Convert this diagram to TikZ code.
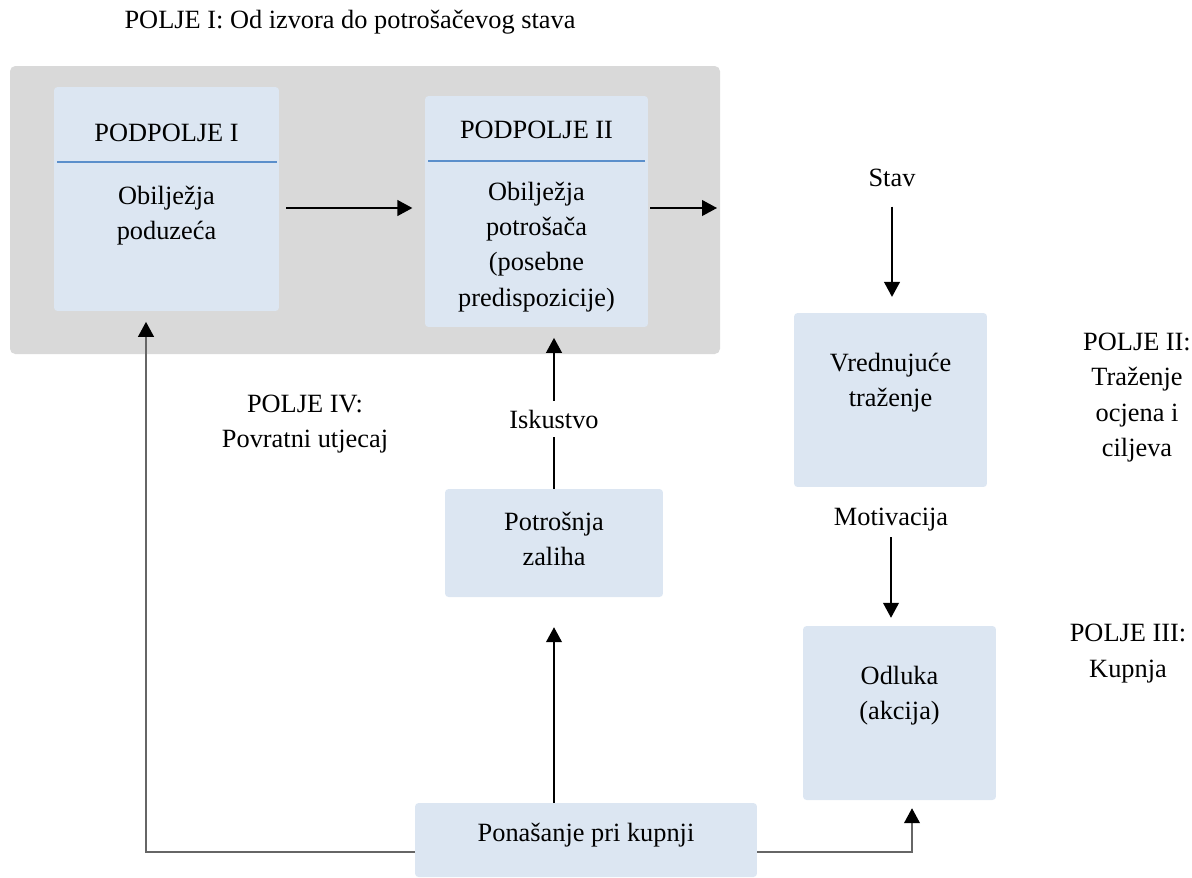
\documentclass[tikz,border=0pt]{standalone}
\usepackage{fontspec}
\setmainfont{Liberation Serif}
\usepackage{xcolor}
\usetikzlibrary{arrows.meta}

\definecolor{fieldgray}{HTML}{D9D9D9}
\definecolor{boxblue}{HTML}{DCE6F2}
\definecolor{ruleblue}{HTML}{5B8FCB}

\begin{document}
\begin{tikzpicture}[x=0.02cm, y=-0.02cm, font=\fontsize{15}{20}\selectfont,
    box/.style={fill=boxblue, rounded corners=2pt, inner sep=0pt},
    txt/.style={inner sep=0pt, align=center},
    arr/.style={line width=0.8pt, -{Triangle[width=9pt, length=8.5pt]}},
    fb/.style={line width=0.8pt, draw=black!60, -{Triangle[width=9pt, length=8.5pt, black]}}]
    \useasboundingbox (0,0) rectangle (1192,877);

    % field I background
    \fill[fieldgray, rounded corners=3pt] (10,66) rectangle (720,354);
    \node[txt] (title) at (350,22) {POLJE I: Od izvora do potrošačevog stava};

    % subfields
    \node[box, minimum width=4.5cm, minimum height=4.48cm] (pod1) at (166.5,199) {};
    \node[txt] (pod1title) at (166.5,133) {PODPOLJE I};
    \draw[ruleblue, line width=0.8pt] (57,162) -- (277,162);
    \node[txt] (pod1body) at (166.5,216) {Obilježja\\poduzeća};

    \node[box, minimum width=4.46cm, minimum height=4.62cm] (pod2) at (536.5,211.5) {};
    \node[txt] (pod2title) at (536.5,130) {PODPOLJE II};
    \draw[ruleblue, line width=0.8pt] (428,161) -- (645,161);
    \node[txt] (pod2body) at (536.5,247) {Obilježja\\potrošača\\(posebne\\predispozicije)};

    % field II and III
    \node[txt] (stav) at (892,178) {Stav};
    \node[box, minimum width=3.86cm, minimum height=3.48cm] (vred) at (890.5,400) {};
    \node[txt] (vredbody) at (890.5,383) {Vrednujuće\\traženje};
    \node[txt] (motiv) at (891,520) {Motivacija};
    \node[box, minimum width=3.86cm, minimum height=3.48cm] (odluka) at (899.5,713) {};
    \node[txt] (odlukabody) at (899.5,696) {Odluka\\(akcija)};

    \node[txt] (polje2) at (1137,397.5) {POLJE II:\\Traženje\\ocjena i\\ciljeva};
    \node[txt] (polje3) at (1128,653.5) {POLJE III:\\Kupnja};

    % field IV
    \node[box, minimum width=4.36cm, minimum height=2.16cm] (potr) at (554,543) {};
    \node[txt] (potrbody) at (554,539) {Potrošnja\\zaliha};
    \node[box, minimum width=6.84cm, minimum height=1.48cm] (pon) at (586,840) {};
    \node[txt] (ponbody) at (586,835) {Ponašanje pri kupnji};
    \node[txt] (polje4) at (305,424) {POLJE IV:\\Povratni utjecaj};

    \coordinate (row) at (0,208);
    \coordinate (out) at (717,208);
    \coordinate (corner1) at (146,852);
    \coordinate (corner2) at (912,852);

    % connectors
    \draw[arr, shorten <=4pt, shorten >=7pt] (pod1.east |- row) -- (pod2.west |- row);
    \draw[arr, shorten <=1pt] (pod2.east |- row) -- (out);
    \draw[arr, shorten <=11pt, shorten >=9pt] (stav) -- (stav |- vred.north);
    \draw[arr, shorten <=3pt, shorten >=4.5pt] (motiv) -- (motiv |- odluka.north);
    \draw[arr, shorten >=6pt] (potr.north) -- node[pos=0.43, fill=white, inner sep=5pt] (isk) {Iskustvo} (potr.north |- pod2.south);
    \draw[arr, shorten >=17pt] (potr.south |- pon.north) -- (potr.south);
    \draw[fb, shorten >=6pt] (pon.west |- corner1) -- (corner1) -- (corner1 |- pod1.south);
    \draw[fb, shorten >=4.5pt] (pon.east |- corner2) -- (corner2) -- (corner2 |- odluka.south);
\end{tikzpicture}
\end{document}
